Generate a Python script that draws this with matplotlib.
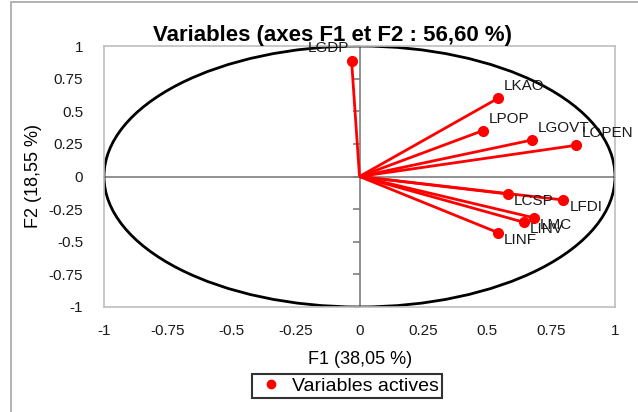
import matplotlib
matplotlib.use("Agg")
import matplotlib.pyplot as plt
from matplotlib.patches import Circle, Rectangle
from matplotlib.lines import Line2D

plt.rcParams['font.family'] = ['Liberation Sans', 'DejaVu Sans']

variables = ['LGDP', 'LKAO', 'LPOP', 'LGOVT', 'LOPEN', 'LCSP', 'LFDI', 'LMC', 'LINV', 'LINF']
f1 = [-0.031, 0.542, 0.482, 0.676, 0.847, 0.580, 0.798, 0.682, 0.644, 0.543]
f2 = [0.887, 0.599, 0.351, 0.280, 0.239, -0.134, -0.180, -0.316, -0.351, -0.431]
ticks = [-1, -0.75, -0.5, -0.25, 0, 0.25, 0.5, 0.75, 1]
tick_labels = ['-1', '-0.75', '-0.5', '-0.25', '0', '0.25', '0.5', '0.75', '1']
title = 'Variables (axes F1 et F2 : 56,60 %)'
xlabel = 'F1 (38,05 %)'
ylabel = 'F2 (18,55 %)'
legend_label = 'Variables actives'

W, H = 638, 412
fig = plt.figure(figsize=(W / 100, H / 100), dpi=100)

# chart-area border
fig.patches.append(Rectangle((11 / W, -0.1), 1.2, 1 - 2 / H + 0.1, transform=fig.transFigure,
                             fill=False, edgecolor='#a6a6a6', linewidth=1.2))

L, R, T, B = 104, 615, 46, 307
pos = [L / W, 1 - B / H, (R - L) / W, (B - T) / H]
ax = fig.add_axes(pos)
ax.set_xlim(-1, 1)
ax.set_ylim(-1, 1)
for s in ax.spines.values():
    s.set_color('#bfbfbf')
    s.set_linewidth(1.2)
ax.set_xticks(ticks)
ax.set_xticklabels(tick_labels)
ax.set_yticks(ticks)
ax.set_yticklabels(tick_labels)
ax.tick_params(length=0, labelsize=11, pad=12, colors='#1a1a1a')
ax.tick_params(axis='y', pad=15)

# zero axes, tick marks on the vertical one only
ax2 = fig.add_axes(pos, frameon=True)
ax2.patch.set_alpha(0)
ax2.set_xlim(-1, 1)
ax2.set_ylim(-1, 1)
ax2.spines['top'].set_visible(False)
ax2.spines['right'].set_visible(False)
ax2.spines['left'].set_position(('data', 0))
ax2.spines['bottom'].set_position(('data', 0))
for s in ('left', 'bottom'):
    ax2.spines[s].set_color('#7f7f7f')
    ax2.spines[s].set_linewidth(1.2)
ax2.set_xticks([])
ax2.set_yticks(ticks)
ax2.tick_params(labelleft=False, labelbottom=False, direction='out', length=5,
                color='#7f7f7f', width=1.2)
ax2.set_zorder(1)

ax.set_zorder(2)
ax.patch.set_alpha(0)
circle = Circle((0, 0), 1, fill=False, edgecolor='black', linewidth=2)
ax.add_patch(circle)

for name, x, y in zip(variables, f1, f2):
    ax.plot([0, x], [0, y], color='#ff0000', linewidth=2, solid_capstyle='butt')
    ax.plot([x], [y], 'o', color='#ff0000', markersize=7)
    if x < 0:
        off, ha = (-2, 13), 'right'
    elif y >= 0:
        off, ha = (6, 12), 'left'
    else:
        off, ha = (6, -7), 'left'
    ax.annotate(name, (x, y), xytext=off, textcoords='offset pixels', ha=ha, va='center',
                fontsize=11, color='#1a1a1a')

fig.text(332 / W, 1 - 35 / H, title, ha='center', va='center', fontsize=16, fontweight='bold')
fig.text(360 / W, 1 - 360 / H, xlabel, ha='center', va='center', fontsize=13)
fig.text(33 / W, 1 - 176 / H, ylabel, ha='center', va='center', rotation=90, fontsize=13)

handle = Line2D([], [], marker='o', color='#ff0000', linestyle='none', markersize=6)
leg = fig.legend([handle], [legend_label], loc='center', bbox_to_anchor=(347 / W, 1 - 386 / H),
                 fontsize=14, frameon=True, fancybox=False, handletextpad=0.3,
                 borderpad=0.15, handlelength=1.6, borderaxespad=0)
leg.get_frame().set_edgecolor('black')
leg.get_frame().set_linewidth(1.5)

fig.savefig('out.png', dpi=100)
